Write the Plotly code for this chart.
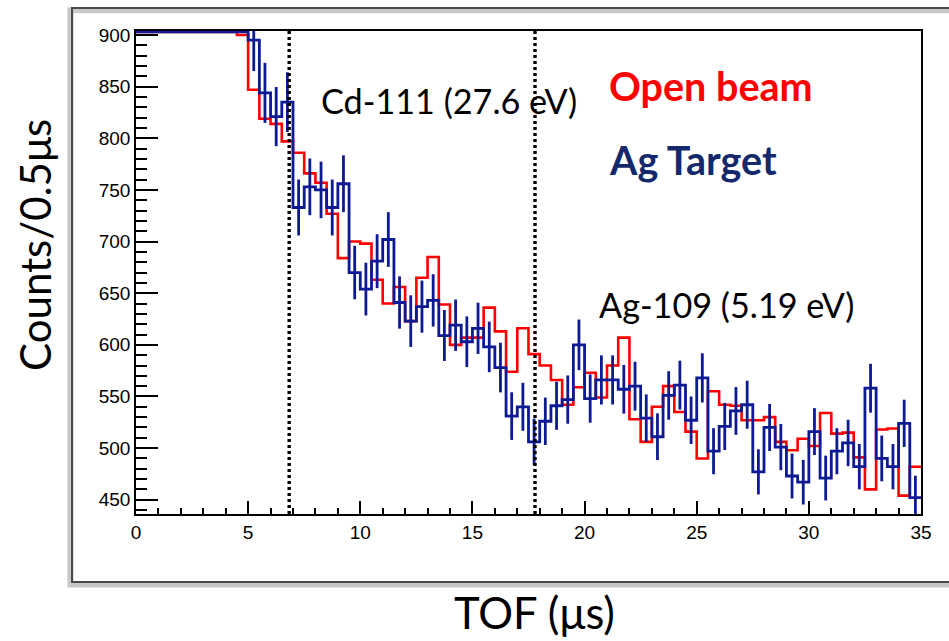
import numpy as np
import plotly.graph_objects as go

# ---------------- data ----------------
bin_width = 0.5
tof_min, tof_max = 0.0, 35.0
y_min, y_max = 436.2, 903.9     # visible count range of the frame
overflow_level = 903            # bins whose content runs off the top of the frame

# counts per 0.5 us bin, 70 bins from 0 to 35 us
open_beam_counts = [
    903, 903, 903, 903, 903, 903, 903, 903, 903, 900,
    847, 819, 814, 797, 786, 766, 757, 727, 684, 700,
    698, 663, 640, 656, 623, 665, 685, 639, 600, 607,
    607, 636, 613, 574, 616, 591, 580, 566, 542, 559,
    573, 549, 580, 607, 528, 506, 540, 560, 535, 516,
    490, 555, 542, 541, 527, 527, 530, 506, 498, 509,
    502, 534, 514, 515, 491, 460, 518, 519, 454, 482,
]
ag_target_counts = [
    903, 903, 903, 903, 903, 903, 903, 903, 903, 903,
    895, 844, 821, 835, 733, 753, 750, 733, 756, 670,
    654, 681, 702, 641, 623, 637, 643, 609, 619, 603,
    616, 598, 578, 531, 540, 506, 526, 541, 547, 600,
    548, 566, 566, 557, 560, 529, 511, 551, 561, 527,
    568, 497, 521, 536, 542, 477, 520, 501, 473, 467,
    516, 471, 497, 505, 482, 558, 490, 482, 524, 452,
]

resonance_tof = [6.83, 17.79]
resonance_labels = ["Cd-111 (27.6 eV)", "Ag-109 (5.19 eV)"]

x_ticks = [0, 5, 10, 15, 20, 25, 30, 35]
y_ticks = [450, 500, 550, 600, 650, 700, 750, 800, 850, 900]

# ---------------- derived ----------------
n_bins = len(open_beam_counts)
edges = tof_min + bin_width * np.arange(n_bins + 1)
centers = edges[:-1] + bin_width / 2
ag = np.array(ag_target_counts, dtype=float)
ag_err = np.where(ag >= overflow_level, 0.0, np.sqrt(ag))   # Poisson errors


def step_xy(counts):
    x = list(edges)
    y = list(counts) + [counts[-1]]
    return x, y


RED = "#ff0000"
BLUE = "#0d1a94"
NAVY = "#14296b"

fig = go.Figure()

xo, yo = step_xy(open_beam_counts)
fig.add_trace(go.Scatter(x=xo, y=yo, mode="lines", line_shape="hv",
                         line=dict(color=RED, width=2.6), name="Open beam",
                         showlegend=False, hoverinfo="skip"))

xa, ya = step_xy(ag_target_counts)
fig.add_trace(go.Scatter(x=xa, y=ya, mode="lines", line_shape="hv",
                         line=dict(color=BLUE, width=2.8), name="Ag Target",
                         showlegend=False, hoverinfo="skip"))

fig.add_trace(go.Scatter(x=centers, y=ag, mode="markers",
                         marker=dict(size=1, color=BLUE, opacity=0),
                         error_y=dict(type="data", array=ag_err, visible=True,
                                      width=0, thickness=2.8, color=BLUE),
                         showlegend=False, hoverinfo="skip"))

# resonance markers (dotted verticals)
for xr in resonance_tof:
    fig.add_shape(type="line", xref="x", yref="paper", x0=xr, x1=xr, y0=0, y1=1,
                  line=dict(color="black", width=3.4, dash="3px,3px"))

# outer canvas frame with shadow (paper coords)
fig.add_shape(type="rect", xref="paper", yref="paper",
              x0=-0.0835, x1=1.2, y0=-0.146, y1=1.043,
              line=dict(color="#c8c8c8", width=6), layer="below")
fig.add_shape(type="rect", xref="paper", yref="paper",
              x0=-0.0815, x1=1.2, y0=-0.1408, y1=1.0476,
              line=dict(color="#4a4a4a", width=2), layer="below")

TXT_FONT = "Lato"
fig.add_annotation(x=8.15, y=837, xref="x", yref="y", text=resonance_labels[0],
                   showarrow=False, xanchor="left", yanchor="middle",
                   font=dict(family=TXT_FONT, size=34.2, color="black"))
fig.add_annotation(x=20.55, y=639, xref="x", yref="y", text=resonance_labels[1],
                   showarrow=False, xanchor="left", yanchor="middle",
                   font=dict(family=TXT_FONT, size=34.2, color="black"))
fig.add_annotation(x=21.0, y=851, xref="x", yref="y", text="<b>Open beam</b>",
                   showarrow=False, xanchor="left", yanchor="middle",
                   font=dict(family=TXT_FONT, size=39.5, color=RED))
fig.add_annotation(x=21.0, y=779, xref="x", yref="y", text="<b>Ag Target</b>",
                   showarrow=False, xanchor="left", yanchor="middle",
                   font=dict(family=TXT_FONT, size=39.5, color=NAVY))

# axis titles
fig.add_annotation(x=-0.1287, y=0.557, xref="paper", yref="paper",
                   text="Counts/0.5μs", textangle=-90, showarrow=False,
                   xanchor="center", yanchor="middle",
                   font=dict(family=TXT_FONT, size=42, color="black"))
fig.add_annotation(x=0.508, y=-0.203, xref="paper", yref="paper",
                   text="TOF (μs)", showarrow=False,
                   xanchor="center", yanchor="middle",
                   font=dict(family=TXT_FONT, size=43.5, color="black"))

axis_common = dict(showgrid=False, zeroline=False, showline=True,
                   linecolor="black", linewidth=1.5, mirror=True,
                   ticks="inside", tickcolor="black", tickwidth=1.5,
                   tickfont=dict(family="Liberation Sans", size=19, color="black"))

fig.update_layout(
    width=949, height=641, autosize=False,
    margin=dict(l=136, r=28, t=31, b=127),
    paper_bgcolor="white", plot_bgcolor="white",
    xaxis=dict(range=[tof_min, tof_max], tickvals=x_ticks, ticklen=13,
               minor=dict(dtick=1, tick0=0, ticklen=6, ticks="inside",
                          tickcolor="black", tickwidth=1.5),
               **axis_common),
    yaxis=dict(range=[y_min, y_max], tickvals=y_ticks, ticklen=22,
               minor=dict(dtick=10, tick0=0, ticklen=11, ticks="inside",
                          tickcolor="black", tickwidth=1.5),
               **axis_common),
)

fig.write_html("out.html", config={"displayModeBar": False},
               post_script="document.body.style.margin='0';document.body.style.overflow='hidden';")
